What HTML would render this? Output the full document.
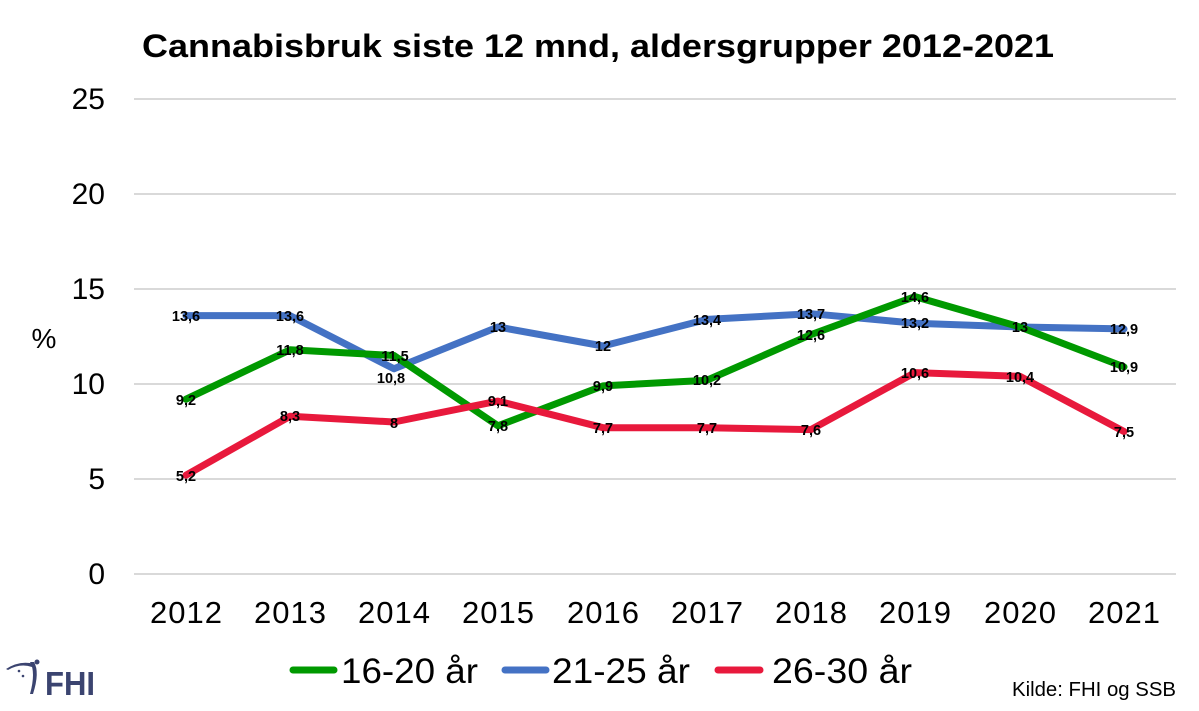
<!DOCTYPE html>
<html><head><meta charset="utf-8"><style>
html,body{margin:0;padding:0;background:#fff;}
svg{display:block;}
</style></head><body>
<svg width="1199" height="711" viewBox="0 0 1199 711" xmlns="http://www.w3.org/2000/svg">
<rect width="1199" height="711" fill="#fff"/>
<text x="598" y="57" text-anchor="middle" font-family="Liberation Sans, sans-serif" font-weight="bold" font-size="32" textLength="912" lengthAdjust="spacingAndGlyphs">Cannabisbruk siste 12 mnd, aldersgrupper 2012-2021</text>
<g stroke="#d9d9d9" stroke-width="2">
<line x1="134" y1="99" x2="1176" y2="99"/>
<line x1="134" y1="194" x2="1176" y2="194"/>
<line x1="134" y1="289" x2="1176" y2="289"/>
<line x1="134" y1="384" x2="1176" y2="384"/>
<line x1="134" y1="479" x2="1176" y2="479"/>
<line x1="134" y1="574" x2="1176" y2="574"/>
</g>
<g font-family="Liberation Sans, sans-serif" font-size="30" fill="#000" text-anchor="end">
<text x="105" y="109">25</text>
<text x="105" y="204">20</text>
<text x="105" y="299">15</text>
<text x="105" y="394">10</text>
<text x="105" y="489">5</text>
<text x="105" y="584">0</text>
</g>
<text x="44" y="348" text-anchor="middle" font-family="Liberation Sans, sans-serif" font-size="28">%</text>
<g font-family="Liberation Sans, sans-serif" font-size="31" fill="#000" text-anchor="middle">
<text x="186" y="623" textLength="72">2012</text><text x="290" y="623" textLength="72">2013</text><text x="394" y="623" textLength="72">2014</text>
<text x="498" y="623" textLength="72">2015</text><text x="603" y="623" textLength="72">2016</text><text x="707" y="623" textLength="72">2017</text>
<text x="811" y="623" textLength="72">2018</text><text x="915" y="623" textLength="72">2019</text><text x="1020" y="623" textLength="72">2020</text>
<text x="1124" y="623" textLength="72">2021</text>
</g>
<g fill="none" stroke-width="7" stroke-linejoin="round" stroke-linecap="round">
<polyline stroke="#4472c4" points="186,315.6 290,315.6 394,368.8 498,327 603,346 707,319.4 811,313.7 915,323.2 1020,327 1124,328.9"/>
<polyline stroke="#009900" points="186,399.2 290,349.8 394,355.5 498,425.8 603,385.9 707,380.2 811,334.6 915,296.6 1020,327 1124,366.9"/>
<polyline stroke="#e8193c" points="186,475.2 290,416.3 394,422 498,401.1 603,427.7 707,427.7 811,429.6 915,372.6 1020,376.4 1124,431.5"/>
</g>
<g font-family="Liberation Sans, sans-serif" font-weight="bold" font-size="14.5" fill="#000" text-anchor="middle">
<text x="186" y="321">13,6</text><text x="290" y="321">13,6</text><text x="391" y="383">10,8</text>
<text x="498" y="332">13</text><text x="603" y="351">12</text><text x="707" y="325">13,4</text>
<text x="811" y="319">13,7</text><text x="915" y="328">13,2</text><text x="1020" y="332">13</text><text x="1124" y="334">12,9</text>
<text x="186" y="405">9,2</text><text x="290" y="355">11,8</text><text x="395" y="361">11,5</text>
<text x="498" y="431">7,8</text><text x="603" y="391">9,9</text><text x="707" y="385">10,2</text>
<text x="811" y="340">12,6</text><text x="915" y="302">14,6</text><text x="1124" y="372">10,9</text>
<text x="186" y="481">5,2</text><text x="290" y="421">8,3</text><text x="394" y="428">8</text>
<text x="498" y="406">9,1</text><text x="603" y="433">7,7</text><text x="707" y="433">7,7</text>
<text x="811" y="435">7,6</text><text x="915" y="378">10,6</text><text x="1020" y="382">10,4</text><text x="1124" y="437">7,5</text>
</g>
<g stroke-width="7" stroke-linecap="round">
<line x1="293" y1="670" x2="334" y2="670" stroke="#009900"/>
<line x1="505" y1="670" x2="546" y2="670" stroke="#4472c4"/>
<line x1="718" y1="670" x2="760" y2="670" stroke="#e8193c"/>
</g>
<g font-family="Liberation Sans, sans-serif" font-size="35" fill="#000">
<text x="341" y="683" textLength="137" lengthAdjust="spacingAndGlyphs">16-20 år</text>
<text x="552" y="683" textLength="138" lengthAdjust="spacingAndGlyphs">21-25 år</text>
<text x="772" y="683" textLength="140" lengthAdjust="spacingAndGlyphs">26-30 år</text>
</g>
<text x="1012" y="696" font-family="Liberation Sans, sans-serif" font-size="20" fill="#000" textLength="164" lengthAdjust="spacingAndGlyphs">Kilde: FHI og SSB</text>
<g fill="#3b4470">
<path d="M6,669 Q20,660 34,664 L32,667 Q20,663 8,670 Z"/>
<path d="M30,662 Q36,672 30,694 L33,694 Q40,672 34,662 Z"/>
<circle cx="37" cy="662" r="2.5"/>
<circle cx="19" cy="671" r="1.3"/>
<circle cx="23" cy="676" r="1.3"/>
<text x="45" y="695" font-family="Liberation Sans, sans-serif" font-weight="bold" font-size="33" textLength="50" lengthAdjust="spacingAndGlyphs">FHI</text>
</g>
</svg>
</body></html>
